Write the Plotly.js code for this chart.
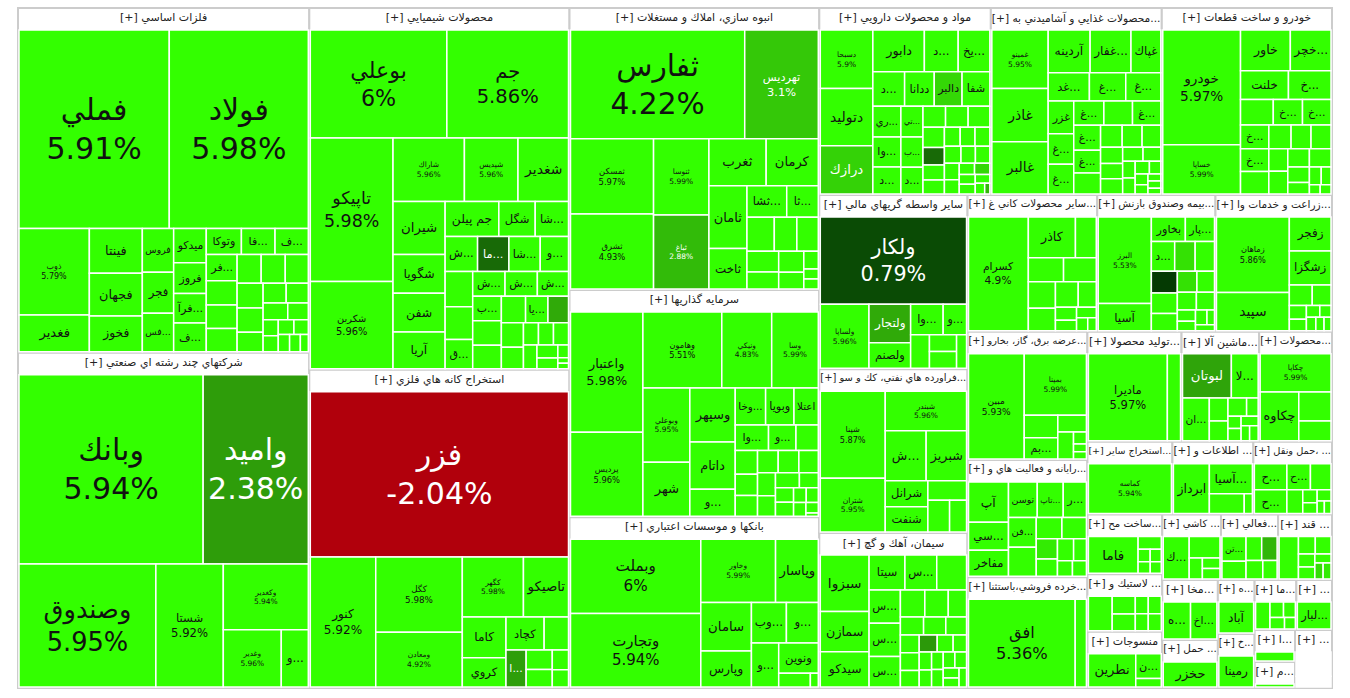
<!DOCTYPE html>
<html>
<head>
<meta charset="utf-8">
<script src="https://cdn.plot.ly/plotly-3.0.1.min.js"></script>
<style>
html, body { margin: 0; padding: 0; background: #fff; overflow: hidden; }
/* the hidden root keeps its own header strip: push it above the window */
#map { position: absolute; left: 0; top: -22px; width: 1350px; height: 720px; }
</style>
</head>
<body>
<div id="map"></div>
<script>
// sector headers, as shown on the map (in map order)
var sectorNames = [
	'[+] فلزات اساسي',
	'[+] شركتهاي چند رشته اي صنعتي',
	'[+] محصولات شيميايي',
	'[+] استخراج كانه هاي فلزي',
	'[+] انبوه سازي، املاك و مستغلات',
	'[+] سرمايه گذاريها',
	'[+] بانكها و موسسات اعتباري',
	'[+] مواد و محصولات دارويي',
	'[+] محصولات غذايي و آشاميدني به...',
	'[+] خودرو و ساخت قطعات',
	'[+] ساير واسطه گريهاي مالي',
	'[+] فراورده هاي نفتي، كك و سو...',
	'[+] سيمان، آهك و گچ',
	'[+] ساير محصولات كاني غ...',
	'[+] بيمه وصندوق بازنش...',
	'[+] زراعت و خدمات وا...',
	'[+] عرضه برق، گاز، بخارو...',
	'[+] رايانه و فعاليت هاي و...',
	'[+] خرده فروشي،باستثنا...',
	'[+] توليد محصولا...',
	'[+] ماشين آلا...',
	'[+] محصولات...',
	'[+] استخراج ساير...',
	'[+] اطلاعات و ...',
	'[+] حمل ونقل، ...',
	'[+] ساخت مح...',
	'[+] لاستيك و ...',
	'[+] منسوجات',
	'[+] كاشي ...',
	'[+] فعالي...',
	'[+] قند ...',
	'[+] مخا...',
	'[+] حمل ...',
	'[+] ه...',
	'[+] خ...',
	'[+] ما...',
	'[+] ...',
	'[+] ا...',
	'[+] م...',
	'[+] ...'
];

// symbols per sector ('' = too small to carry a label)
var stockNames = [
	['فملي','فولاد','ذوب','فغدير','فينتا','فجهان','فخوز','فروس','فجر','فس...','ميدكو','فرآ...','فروز','ف...','فا...','وتوكا','ف...','فر...','','','','','','','','','','','','','','','','','','','',''],
	['وبانك','واميد','وصندوق','شستا','وكغدير','وغدير','و...'],
	['بوعلي','جم','تاپيكو','شكربن','شاراك','شپديس','شغدير','شيران','جم پيلن','شگل','شا...','ش...','ما...','شا...','و...','شگويا','شفن','آريا','','ش...','ش...','ش...','','ق...','ب...','يا...','','','','','','','','','','','','','','',''],
	['فزر','كنور','كگل','ومعادن','كگهر','تاصيكو','كاما','كروي','كچاد','ا...','','','','',''],
	['ثفارس','تهرديس','ثمسكن','ثشرق','ثنوسا','ثباغ','ثغرب','كرمان','ثامان','ثاخت','ثشا...','ثا...','','','','','','','','','',''],
	['واعتبار','پرديس','وهامون','ونيكي','وسا','وبوعلي','شهر','وسپهر','داتام','و...','وخا...','وا...','وبويا','اعتلا','و...','','','','','','','','','','','','','','','','','',''],
	['وبملت','وتجارت','وخاور','وپاسار','سامان','وپارس','وب...','و...','و...','ونوين','',''],
	['دسبحا','دتوليد','درازك','دابور','د...','يخ...','د...','ري...','وا...','د...','ددانا','تي...','ب...','د...','دالبر','شفا','','','','','','','','','','','','','','','','','','','','','',''],
	['غمينو','غاذر','غالبر','غفار...','آردينه','غد...','غپاك','غ...','غ...','','غزر','غ...','غ...','','','غ...','غ...','غ...','غ...','','','','','','','','','','','','','','','',''],
	['خودرو','خساپا','خاور','خچر...','خلنت','خ...','','خ...','خ...','','','خ...','خ...','','','','','','','','','','','',''],
	['ولكار','ولساپا','ولتجار','ولصنم','وا...','و...','','','',''],
	['شپنا','شتران','شبندر','ش...','شبريز','شنفت','شرانل','','',''],
	['سبزوا','سمازن','سيدكو','سيتا','س...','','س...','س...','س...','','','','','','','','','','','','','','','','','','','','',''],
	['كسرام','كاذر','','','','','','','','','','','',''],
	['البرز','آسيا','بخاور','پار...','د...','','','','','','','','','','','','','',''],
	['زماهان','سپيد','زفجر','زشگزا','','','','','','','','',''],
	['مبين','بمپنا','بم...','','','','','',''],
	['آپ','سي...','مفاخر','توسن','تاپ...','ر...','فن...','','','','','','','','',''],
	['افق',''],
	['ماديرا',''],
	['لبوتان','لا...','ان...','','','','','','','','',''],
	['چكاپا','چكاوه','',''],
	['كماسه'],
	['ابرداز','آسيا...','',''],
	['ح...','ح...','','ح...','','','','','',''],
	['فاما','','','','',''],
	['','','','','','',''],
	['نطرين','ن...',''],
	['ك...','','','',''],
	['تن...','','','','',''],
	['','','','','','','',''],
	['اخ...','ه...'],
	['حخزر'],
	['آباد'],
	['رمينا'],
	['','','','',''],
	['لبار...'],
	[''],
	[''],
	['','','']
];

// size of each symbol (read from the tile areas)
var stockValues = [
	[3060,2831,626,265,244,233,194,141,132,124,115,99,103,96,90,94,89,83,74,74,77,71,71,66,52,47,68,42,35,25,25,65,45,22,20,19,24,14],
	[3585,2047,1731,853,575,341,159],
	[1510,1345,1215,740,465,349,329,282,192,130,119,116,112,112,101,207,207,196,100,82,82,79,92,83,72,61,66,55,69,72,56,49,33,34,34,34,28,14,23,6,6],
	[4405,880,674,490,380,280,184,132,130,77,83,53,33,47,29],
	[1980,836,652,650,440,428,280,255,249,161,131,104,97,76,69,80,55,44,56,27,15,15],
	[930,648,640,405,378,372,270,262,229,130,120,91,112,96,75,61,56,51,46,49,44,38,49,49,39,30,28,27,19,18,20,14,4],
	[1075,1060,525,300,272,202,157,143,133,133,48,12],
	[337,331,278,236,155,145,120,95,92,83,112,75,73,65,105,105,52,48,41,33,33,50,52,31,27,23,19,35,31,31,27,19,17,17,14,11,6,27],
	[362,330,322,192,197,127,140,112,108,77,92,81,67,62,39,83,73,86,76,52,48,45,37,31,37,23,15,27,20,13,22,16,10,10,8],
	[979,420,223,182,151,134,92,82,70,70,58,74,80,52,52,43,47,47,43,27,11,11,37,23,19],
	[1418,346,179,117,110,79,70,50,51,37],
	[635,391,362,229,226,120,125,85,77,60],
	[312,223,195,142,126,118,118,118,108,75,47,38,38,35,72,56,35,45,42,31,25,23,21,16,26,24,18,23,21,16],
	[791,224,98,91,99,83,71,53,32,67,26,24,17,13],
	[535,168,97,83,81,71,67,66,52,48,62,39,37,24,43,20,13,20,13],
	[640,325,165,165,45,55,27,15,18,23,15,13,11],
	[692,450,85,57,50,89,12,11,18],
	[193,135,125,123,111,99,99,65,97,62,43,34,52,44,26,28],
	[1143,120],
	[845,141],
	[266,146,142,53,42,46,20,16,26,20,20,16],
	[334,234,116,79],
	[588],
	[255,183,99,23],
	[120,87,76,111,54,22,27,22,13,12],
	[290,47,22,20,24,22],
	[134,67,37,37,63,36,36],
	[260,104,36],
	[167,100,42,28,28],
	[90,56,47,57,65,40],
	[125,45,42,22,20,19,32,30],
	[156,162],
	[254],
	[189],
	[189],
	[72,34,39,31,23],
	[170],
	[123],
	[100],
	[80,62,62]
];

// daily change, percent (null = no trade)
var stockChanges = [
	[5.91,5.98,5.79,5.95,5.97,5.9,5.93,5.96,5.92,5.94,5.9,5.88,5.97,5.9,5.85,5.92,5.9,5.95,5.9,5.94,5.9,5.87,5.96,5.9,5.93,5.9,5.95,5.9,5.88,5.9,5.92,5.9,5.96,5.9,5.9,5.93,5.9,5.9],
	[5.94,2.38,5.95,5.92,5.94,5.96,5.9],
	[6,5.86,5.98,5.96,5.96,5.96,5.93,5.9,5.95,5.92,5.9,5.88,1.4,5.9,5.85,5.97,5.9,5.94,5.9,5.92,5.9,5.88,5.9,5.93,5.9,5.95,5.9,5.9,5.92,5.9,2.6,5.9,5.94,5.9,5.9,5.91,5.9,5.9,5.9,5.9,5.9],
	[-2.04,5.92,5.98,4.92,5.98,5.95,5.9,5.93,5.97,2.4,5.9,5.9,5.92,5.9,5.9],
	[4.22,3.1,5.97,4.93,5.99,2.88,5.9,5.92,5.95,5.93,5.9,5.88,5.9,5.9,5.92,5.9,5.9,5.95,5.9,5.9,5.9,5.9],
	[5.98,5.96,5.51,4.83,5.99,5.95,5.92,5.9,5.94,5.9,5.88,5.9,5.93,5.9,5.9,5.9,5.9,5.9,5.9,5.9,5.9,5.9,5.9,5.9,5.9,5.9,5.9,5.9,5.9,5.9,5.9,5.9,5.9],
	[6,5.94,5.99,5.95,5.9,5.93,5.9,5.92,5.88,5.96,5.9,5.9],
	[5.9,5.95,3.3,5.97,5.9,5.92,5.9,5.88,5.9,5.93,5.9,5.9,5.91,5.9,3.4,5.94,5.9,5.9,1.4,5.9,5.9,5.9,5.9,5.9,5.9,5.9,5.9,5.9,5.9,5.9,5.9,3.4,5.9,5.9,5.9,5.9,2.8,5.9],
	[5.95,5.9,5.92,5.9,5.94,5.9,5.93,5.9,5.9,5.9,5.91,5.9,5.9,5.9,5.9,5.9,5.9,5.9,5.9,5.9,5.9,5.9,5.9,5.9,5.9,5.9,5.9,5.9,5.9,5.9,5.9,5.9,5.9,5.9,5.9],
	[5.97,5.99,5.92,5.9,5.94,5.9,5.9,5.93,5.9,5.9,5.9,5.9,5.9,5.9,5.9,5.9,5.9,5.9,5.9,5.9,5.9,5.9,5.9,5.9,5.9],
	[0.79,5.96,2.6,5.9,5.9,5.92,5.9,5.9,5.9,5.9],
	[5.87,5.95,5.96,5.9,5.93,5.9,5.92,5.9,5.9,5.9],
	[5.92,5.9,5.94,5.9,5.9,5.9,5.91,5.9,5.9,5.9,5.9,5.9,5.9,5.9,5.9,5.9,2.3,5.9,5.9,5.9,5.9,5.9,5.9,5.9,5.9,5.9,5.9,5.9,5.9,5.9],
	[4.9,5.93,5.9,5.9,5.9,5.9,5.9,5.9,5.9,5.9,5.9,5.9,5.9,5.9],
	[5.53,5.9,5.92,5.9,5.9,3.6,5.9,0.4,5.9,3.6,5.9,5.9,5.9,5.9,5.9,5.9,5.9,5.9,5.9],
	[5.86,5.9,5.93,5.9,5.9,5.9,5.9,5.9,5.9,5.9,5.9,5.9,5.9],
	[5.93,5.99,5.9,5.9,5.9,5.9,5.9,5.9,5.9],
	[5.9,5.9,5.92,5.9,5.9,5.9,5.9,5.9,5.9,5.9,5.9,5.9,3.8,5.9,5.9,5.9],
	[5.36,5.9],
	[5.97,5.9],
	[2.5,5.9,5.9,5.9,5.9,5.9,5.9,5.9,5.9,5.9,5.9,5.9],
	[5.99,5.9,5.9,5.9],
	[5.94],
	[5.9,5.9,5.9,5.9],
	[5.9,5.9,5.9,5.9,5.9,5.9,5.9,5.9,5.9,5.9],
	[5.9,5.9,5.9,5.9,5.9,5.9],
	[5.9,5.9,5.9,5.9,5.9,5.9,5.9],
	[5.9,5.9,5.9],
	[5.9,5.9,5.9,5.9,5.9],
	[5.9,2.8,5.9,5.9,5.9,5.9],
	[5.9,5.9,5.9,5.9,3.5,3.8,5.9,5.9],
	[5.9,5.9],
	[5.9],
	[5.9],
	[5.9],
	[5.9,5.9,5.9,5.9,5.9],
	[5.9],
	[5.9],
	[5.9],
	[null,null,null]
];

// change -> tile colour
var colorStops = [
	[-5, [255, 0, 0]],
	[-2, [176, 0, 12]],
	[0, [0, 40, 0]],
	[0.8, [10, 75, 5]],
	[2.4, [46, 158, 10]],
	[3.1, [52, 200, 8]],
	[4.2, [51, 255, 0]]
];

function colorFor(c) {
	if (c === null) return '#ffffff';
	var rgb = colorStops[colorStops.length - 1][1];
	if (c <= colorStops[0][0]) rgb = colorStops[0][1];
	for (var i = 1; i < colorStops.length; i++) {
		if (c <= colorStops[i][0] && c > colorStops[i - 1][0]) {
			var a = colorStops[i - 1], b = colorStops[i];
			var t = (c - a[0]) / (b[0] - a[0]);
			rgb = [0, 1, 2].map(function (k) { return Math.round(a[1][k] + t * (b[1][k] - a[1][k])); });
			break;
		}
	}
	return 'rgb(' + rgb.join(',') + ')';
}

var ids = [], labels = [], parents = [], values = [], texts = [];
var colors = [], lineColors = [], lineWidths = [], fontSizes = [], fontColors = [];

for (var i = 0; i < sectorNames.length; i++) {
	var sid = 'sec' + i;
	var total = 0;
	for (var j = 0; j < stockValues[i].length; j++) total += stockValues[i][j];

	ids.push(sid);
	labels.push(sectorNames[i]);
	parents.push('');
	values.push(total);
	texts.push('');
	colors.push('#ffffff');
	lineColors.push('#cccccc');
	lineWidths.push(2);
	fontSizes.push(11);
	fontColors.push('#222222');

	// biggest symbol first inside a sector; sectors keep map order
	var order = stockValues[i].map(function (v, k) { return k; });
	order.sort(function (a, b) { return stockValues[i][b] - stockValues[i][a] || a - b; });

	order.forEach(function (j) {
		var v = stockValues[i][j];
		var c = stockChanges[i][j];
		var showPct = stockNames[i][j] !== '' && v >= 333;
		ids.push(sid + '-' + j);
		labels.push(stockNames[i][j]);
		parents.push(sid);
		values.push(v);
		texts.push(showPct ? (Math.round(c * 100) / 100) + '%' : '');
		colors.push(colorFor(c));
		lineColors.push('#ffffff');
		lineWidths.push(1.5);
		// bigger tiles get bigger type
		var fs = showPct ? Math.max(7.5, Math.min(30, 0.016 * v - 2)) : Math.max(9, Math.min(14, 10 + 0.012 * v));
		fontSizes.push(fs);
		fontColors.push(c !== null && c < 3.4 ? '#ffffff' : '#111111');
	});
}

var trace = {
	type: 'treemap',
	ids: ids,
	labels: labels,
	parents: parents,
	values: values,
	text: texts,
	branchvalues: 'total',
	sort: false,
	textinfo: 'label+text',
	textposition: 'middle center',
	textfont: {
		family: 'Tahoma, "DejaVu Sans", sans-serif',
		size: fontSizes,
		color: fontColors
	},
	marker: {
		colors: colors,
		depthfade: false,
		line: { color: lineColors, width: lineWidths },
		pad: { t: 22, l: 1, r: 1, b: 1 }
	},
	tiling: { packing: 'squarify', squarifyratio: 1, pad: 0 },
	pathbar: { visible: false },
	hoverinfo: 'none'
};

var layout = {
	width: 1350,
	height: 720,
	margin: { l: 17, r: 17, t: 8, b: 9 },
	paper_bgcolor: '#ffffff',
	font: { family: 'Tahoma, "DejaVu Sans", sans-serif' }
};

Plotly.newPlot('map', [trace], layout, { displayModeBar: false });
</script>
</body>
</html>
